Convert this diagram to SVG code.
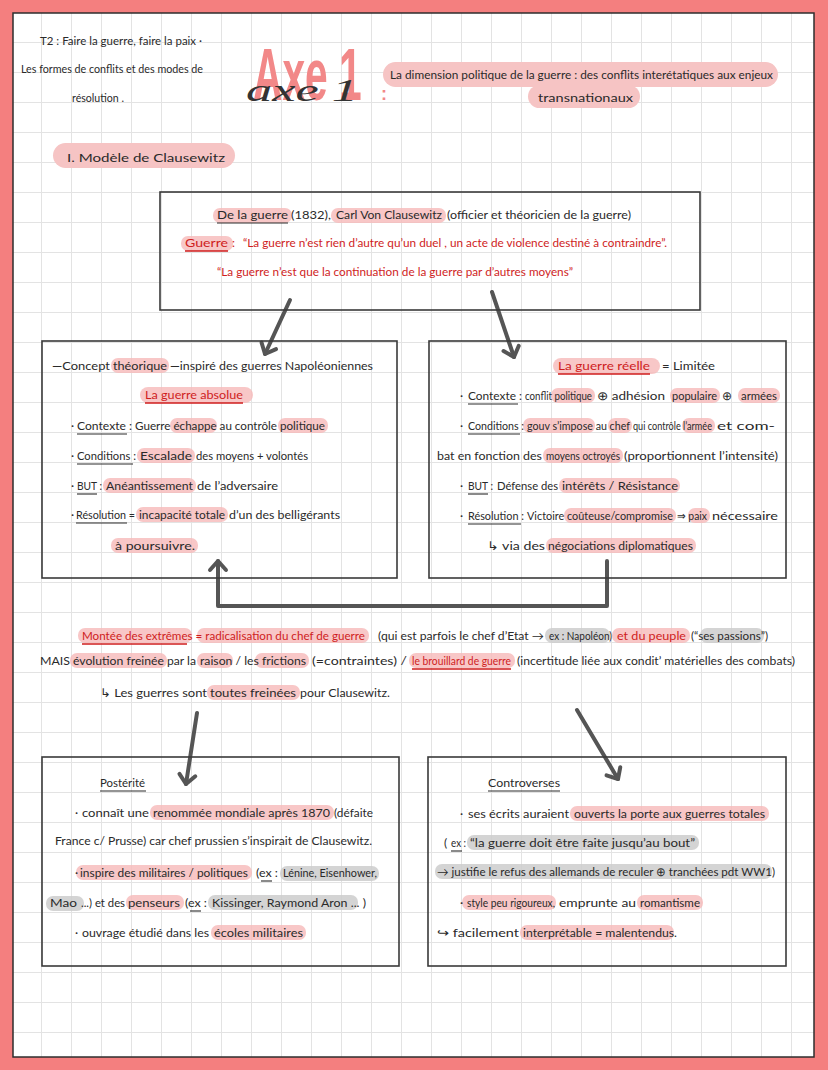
<svg xmlns="http://www.w3.org/2000/svg" width="828" height="1070" viewBox="0 0 828 1070">
<style>
.t{font-family:"Lato","Liberation Sans",sans-serif;font-size:12px;fill:#2a2a2a}
.s{font-size:11.5px}
.r{fill:#cf1d1d}
.hp{fill:#f6b9b9;opacity:.8}
.hg{fill:#cdcdcd;opacity:.85}
.ul{stroke:#2a2a2a;stroke-width:1.1}
.ur{stroke:#cf1d1d;stroke-width:1.3}
.box{fill:none;stroke:#3a3a3a;stroke-width:1.6}
.arr{fill:none;stroke:#555;stroke-width:4;stroke-linecap:round;stroke-linejoin:round}
</style>
<defs>
<pattern id="grid" patternUnits="userSpaceOnUse" x="11" y="12" width="30" height="30">
<path d="M0.5 0V30M0 0.5H30" stroke="#e3e3e3" stroke-width="1" fill="none"/>
</pattern>
<marker id="ah" viewBox="-12 -12 24 24" refX="0" refY="0" markerWidth="24" markerHeight="24" markerUnits="userSpaceOnUse" orient="auto">
<path d="M-9,-8 L0,0 L-9,8" fill="none" stroke="#555" stroke-width="4" stroke-linecap="round" stroke-linejoin="round"/>
</marker>
</defs>
<rect x="0" y="0" width="828" height="1070" fill="#f47f7f"/>
<rect x="13" y="13" width="801" height="1044" fill="#fff"/>
<rect x="13" y="13" width="801" height="1044" fill="url(#grid)" stroke="#2e2e2e" stroke-width="1.5"/>

<g id="header">
<text class="t s" x="40" y="45" textLength="162" lengthAdjust="spacingAndGlyphs">T2 : Faire la guerre, faire la paix ·</text>
<text class="t s" x="21" y="73" textLength="182" lengthAdjust="spacingAndGlyphs">Les formes de conflits et des modes de</text>
<text class="t s" x="72" y="102" textLength="52" lengthAdjust="spacingAndGlyphs">résolution .</text>
<text transform="translate(253,100) scale(0.55,1)" x="0" y="0" font-family="Liberation Sans, sans-serif" font-size="74" font-weight="bold" fill="#f28888">Axe 1</text>
<text x="246" y="101" font-family="Liberation Serif, serif" font-style="italic" font-size="32" fill="#333" textLength="112" lengthAdjust="spacingAndGlyphs">axe 1</text>
<text x="381" y="100" font-family="Liberation Sans, sans-serif" font-size="18" font-weight="bold" fill="#f28888">:</text>
<rect x="383" y="62" width="395" height="25" rx="12.5" fill="#f6c4c4"/>
<rect x="528" y="85" width="112" height="23" rx="11.5" fill="#f6c4c4"/>
<text class="t s" x="390" y="79" textLength="383" lengthAdjust="spacingAndGlyphs">La dimension politique de la guerre : des conflits interétatiques aux enjeux</text>
<text class="t s" x="538" y="102" textLength="95" lengthAdjust="spacingAndGlyphs">transnationaux</text>
<rect x="53" y="143" width="182" height="25" rx="12.5" fill="#f6c4c4"/>
<text class="t" x="67" y="162" font-size="18" textLength="158" lengthAdjust="spacingAndGlyphs">I. Modèle de Clausewitz</text>
</g>

<g id="connectors">
<path class="arr" d="M290,300 L265,354" marker-end="url(#ah)"/>
<path class="arr" d="M492,292 L514,357" marker-end="url(#ah)"/>
<path class="arr" d="M607,561 L607,606 L218,606 L218,561" marker-end="url(#ah)"/>
<path class="arr" d="M197,713 L186,784" marker-end="url(#ah)"/>
<path class="arr" d="M577,710 L618,779" marker-end="url(#ah)"/>
</g>

<g id="source">
<rect class="box" x="160" y="192" width="540" height="118"/>
<rect class="hp" x="213" y="208" width="79" height="15" rx="7"/>
<rect class="hp" x="331" y="208" width="115" height="15" rx="7"/>
<rect class="hp" x="181" y="236" width="52" height="15" rx="7"/>
<text class="t" x="217" y="219" textLength="71" lengthAdjust="spacingAndGlyphs">De la guerre</text>
<line class="ul" x1="217" y1="223" x2="288" y2="223"/>
<text class="t" x="291" y="219" textLength="40" lengthAdjust="spacingAndGlyphs">(1832),</text>
<text class="t" x="336" y="219" textLength="106" lengthAdjust="spacingAndGlyphs">Carl Von Clausewitz</text>
<text class="t" x="447" y="219" textLength="184" lengthAdjust="spacingAndGlyphs">(officier et théoricien de la guerre)</text>
<text class="t r" x="185" y="247" font-size="15" textLength="43" lengthAdjust="spacingAndGlyphs">Guerre</text>
<line class="ur" x1="185" y1="251" x2="228" y2="251"/>
<text class="t r" x="232" y="247">:</text>
<text class="t r" x="243" y="247" textLength="424" lengthAdjust="spacingAndGlyphs">“La guerre n’est rien d’autre qu’un duel , un acte de violence destiné à contraindre”.</text>
<text class="t r" x="217" y="276" textLength="356" lengthAdjust="spacingAndGlyphs">“La guerre n’est que la continuation de la guerre par d’autres moyens”</text>
</g>

<g id="absolue">
<rect class="box" x="42" y="341" width="355" height="237"/>
<rect class="hp" x="111" y="358" width="58" height="15" rx="7"/>
<rect class="hp" x="140" y="387" width="113" height="16" rx="8"/>
<rect class="hp" x="170" y="418" width="47" height="15" rx="7"/>
<rect class="hp" x="278" y="418" width="50" height="15" rx="7"/>
<rect class="hp" x="137" y="448" width="58" height="15" rx="7"/>
<rect class="hp" x="103" y="478" width="93" height="15" rx="7"/>
<rect class="hp" x="136" y="507" width="92" height="15" rx="7"/>
<rect class="hp" x="111" y="538" width="87" height="15" rx="7"/>
<text class="t" x="52" y="370" font-size="14" textLength="58" lengthAdjust="spacingAndGlyphs">—Concept</text>
<text class="t" x="113" y="370" textLength="54" lengthAdjust="spacingAndGlyphs">théorique</text>
<text class="t" x="170" y="370" textLength="203" lengthAdjust="spacingAndGlyphs">—inspiré des guerres Napoléoniennes</text>
<text class="t r" x="145" y="399" font-size="14" textLength="98" lengthAdjust="spacingAndGlyphs">La guerre absolue</text>
<line class="ur" x1="145" y1="403" x2="243" y2="403"/>
<text class="t" x="71" y="430">·</text>
<text class="t" x="77" y="430" textLength="55" lengthAdjust="spacingAndGlyphs">Contexte :</text>
<line class="ul" x1="77" y1="434" x2="127" y2="434"/>
<text class="t" x="135" y="430" textLength="190" lengthAdjust="spacingAndGlyphs">Guerre échappe au contrôle politique</text>
<text class="t" x="71" y="460">·</text>
<text class="t" x="77" y="460" textLength="59" lengthAdjust="spacingAndGlyphs">Conditions :</text>
<line class="ul" x1="77" y1="464" x2="133" y2="464"/>
<text class="t" x="140" y="460" textLength="52" lengthAdjust="spacingAndGlyphs">Escalade</text>
<text class="t" x="196" y="460" textLength="112" lengthAdjust="spacingAndGlyphs">des moyens + volontés</text>
<text class="t" x="71" y="490">·</text>
<text class="t" x="77" y="490" textLength="25" lengthAdjust="spacingAndGlyphs">BUT :</text>
<line class="ul" x1="77" y1="494" x2="97" y2="494"/>
<text class="t" x="106" y="490" textLength="87" lengthAdjust="spacingAndGlyphs">Anéantissement</text>
<text class="t" x="197" y="490" textLength="81" lengthAdjust="spacingAndGlyphs">de l’adversaire</text>
<text class="t" x="71" y="519">·</text>
<text class="t" x="76" y="519" textLength="59" lengthAdjust="spacingAndGlyphs">Résolution =</text>
<line class="ul" x1="76" y1="523" x2="127" y2="523"/>
<text class="t" x="139" y="519" textLength="86" lengthAdjust="spacingAndGlyphs">incapacité totale</text>
<text class="t" x="229" y="519" textLength="111" lengthAdjust="spacingAndGlyphs">d’un des belligérants</text>
<text class="t" x="115" y="550" textLength="80" lengthAdjust="spacingAndGlyphs">à  poursuivre.</text>
</g>

<g id="reelle">
<rect class="box" x="429" y="341" width="357" height="237"/>
<rect class="hp" x="553" y="358" width="107" height="16" rx="8"/>
<rect class="hp" x="551" y="388" width="44" height="15" rx="7"/>
<rect class="hp" x="670" y="388" width="50" height="15" rx="7"/>
<rect class="hp" x="738" y="388" width="42" height="15" rx="7"/>
<rect class="hp" x="523" y="418" width="72" height="15" rx="7"/>
<rect class="hp" x="608" y="418" width="24" height="15" rx="7"/>
<rect class="hp" x="682" y="418" width="33" height="15" rx="7"/>
<rect class="hp" x="543" y="448" width="80" height="15" rx="7"/>
<rect class="hp" x="559" y="478" width="121" height="15" rx="7"/>
<rect class="hp" x="564" y="508" width="112" height="15" rx="7"/>
<rect class="hp" x="688" y="508" width="22" height="15" rx="7"/>
<rect class="hp" x="546" y="538" width="150" height="15" rx="7"/>
<text class="t r" x="558" y="370" font-size="14" textLength="92" lengthAdjust="spacingAndGlyphs">La guerre réelle</text>
<line class="ur" x1="558" y1="374" x2="650" y2="374"/>
<text class="t" x="662" y="370" textLength="53" lengthAdjust="spacingAndGlyphs">= Limitée</text>
<text class="t" x="460" y="400">·</text>
<text class="t" x="468" y="400" textLength="54" lengthAdjust="spacingAndGlyphs">Contexte :</text>
<line class="ul" x1="468" y1="404" x2="518" y2="404"/>
<text class="t" x="525" y="400" textLength="67" lengthAdjust="spacingAndGlyphs">conflit politique</text>
<text class="t" x="597" y="400" textLength="68" lengthAdjust="spacingAndGlyphs">⊕ adhésion</text>
<text class="t" x="672" y="400" textLength="45" lengthAdjust="spacingAndGlyphs">populaire</text>
<text class="t" x="722" y="400">⊕</text>
<text class="t" x="741" y="400" textLength="36" lengthAdjust="spacingAndGlyphs">armées</text>
<text class="t" x="460" y="430">·</text>
<text class="t" x="468" y="430" textLength="56" lengthAdjust="spacingAndGlyphs">Conditions :</text>
<line class="ul" x1="468" y1="434" x2="520" y2="434"/>
<text class="t" x="527" y="430" textLength="103" lengthAdjust="spacingAndGlyphs">gouv s’impose au chef</text>
<text class="t" x="633" y="430" font-size="10.5" textLength="79" lengthAdjust="spacingAndGlyphs">qui contrôle l’armée</text>
<text class="t" x="717" y="430" textLength="58" lengthAdjust="spacingAndGlyphs">et com-</text>
<text class="t" x="437" y="460" textLength="105" lengthAdjust="spacingAndGlyphs">bat en fonction des</text>
<text class="t" x="546" y="460" textLength="74" lengthAdjust="spacingAndGlyphs">moyens octroyés</text>
<text class="t" x="624" y="460" textLength="154" lengthAdjust="spacingAndGlyphs">(proportionnent l’intensité)</text>
<text class="t" x="460" y="490">·</text>
<text class="t" x="468" y="490" font-size="14" textLength="25" lengthAdjust="spacingAndGlyphs">BUT :</text>
<line class="ul" x1="468" y1="494" x2="488" y2="494"/>
<text class="t" x="497" y="490" textLength="61" lengthAdjust="spacingAndGlyphs">Défense des</text>
<text class="t" x="562" y="490" textLength="116" lengthAdjust="spacingAndGlyphs">intérêts / Résistance</text>
<text class="t" x="460" y="520">·</text>
<text class="t" x="468" y="520" textLength="56" lengthAdjust="spacingAndGlyphs">Résolution :</text>
<line class="ul" x1="468" y1="524" x2="521" y2="524"/>
<text class="t" x="527" y="520" font-size="11" textLength="146" lengthAdjust="spacingAndGlyphs">Victoire coûteuse/compromise</text>
<text class="t" x="677" y="520" textLength="30" lengthAdjust="spacingAndGlyphs">⇒ paix</text>
<text class="t" x="712" y="520" textLength="66" lengthAdjust="spacingAndGlyphs">nécessaire</text>
<text class="t" x="487" y="550" textLength="58" lengthAdjust="spacingAndGlyphs">↳ via des</text>
<text class="t" x="548" y="550" textLength="145" lengthAdjust="spacingAndGlyphs">négociations diplomatiques</text>
</g>

<g id="extremes">
<rect class="hp" x="78" y="628" width="114" height="15" rx="7"/>
<rect class="hp" x="197" y="628" width="172" height="15" rx="7"/>
<rect class="hg" x="545" y="628" width="65" height="15" rx="7"/>
<rect class="hp" x="612" y="628" width="78" height="15" rx="7"/>
<rect class="hg" x="700" y="628" width="64" height="15" rx="7"/>
<rect class="hp" x="70" y="653" width="97" height="15" rx="7"/>
<rect class="hp" x="197" y="653" width="36" height="15" rx="7"/>
<rect class="hp" x="255" y="653" width="54" height="15" rx="7"/>
<rect class="hp" x="409" y="653" width="106" height="15" rx="7"/>
<rect class="hp" x="207" y="685" width="93" height="15" rx="7"/>
<text class="t r" x="82" y="640" textLength="283" lengthAdjust="spacingAndGlyphs">Montée des extrêmes = radicalisation du chef de guerre</text>
<line class="ur" x1="82" y1="644" x2="187" y2="644"/>
<text class="t" x="378" y="640" textLength="166" lengthAdjust="spacingAndGlyphs">(qui est parfois le chef d’Etat →</text>
<text class="t" x="549" y="640" textLength="63" lengthAdjust="spacingAndGlyphs">ex : Napoléon)</text>
<text class="t r" x="617" y="640" textLength="69" lengthAdjust="spacingAndGlyphs">et du peuple</text>
<text class="t" x="691" y="640" textLength="77" lengthAdjust="spacingAndGlyphs">(“ses passions”)</text>
<text class="t" x="40" y="665" textLength="30" lengthAdjust="spacingAndGlyphs">MAIS</text>
<text class="t" x="73" y="665" textLength="91" lengthAdjust="spacingAndGlyphs">évolution freinée</text>
<text class="t" x="167" y="665" textLength="29" lengthAdjust="spacingAndGlyphs">par la</text>
<text class="t" x="200" y="665" textLength="106" lengthAdjust="spacingAndGlyphs">raison / les frictions</text>
<text class="t" x="312" y="665" textLength="95" lengthAdjust="spacingAndGlyphs">(=contraintes) /</text>
<text class="t r" x="412" y="665" textLength="99" lengthAdjust="spacingAndGlyphs">le brouillard de guerre</text>
<line class="ur" x1="412" y1="669" x2="511" y2="669"/>
<text class="t" x="517" y="665" textLength="278" lengthAdjust="spacingAndGlyphs">(incertitude liée aux condit’ matérielles des combats)</text>
<text class="t" x="100" y="697" textLength="107" lengthAdjust="spacingAndGlyphs">↳ Les guerres sont</text>
<text class="t" x="210" y="697" textLength="86" lengthAdjust="spacingAndGlyphs">toutes freinées</text>
<text class="t" x="300" y="697" textLength="90" lengthAdjust="spacingAndGlyphs">pour Clausewitz.</text>
</g>

<g id="posterite">
<rect class="box" x="42" y="757" width="357" height="209"/>
<rect class="hp" x="150" y="805" width="184" height="15" rx="7"/>
<rect class="hp" x="76" y="865" width="176" height="15" rx="7"/>
<rect class="hg" x="280" y="866" width="99" height="15" rx="7"/>
<rect class="hg" x="46" y="896" width="38" height="15" rx="7"/>
<rect class="hp" x="126" y="895" width="58" height="15" rx="7"/>
<rect class="hg" x="208" y="895" width="150" height="15" rx="7"/>
<rect class="hp" x="211" y="925" width="95" height="15" rx="7"/>
<text class="t" x="100" y="787" font-size="14" textLength="45" lengthAdjust="spacingAndGlyphs">Postérité</text>
<line class="ul" x1="100" y1="791" x2="146" y2="791"/>
<text class="t" x="75" y="817">·</text>
<text class="t" x="82" y="817" textLength="67" lengthAdjust="spacingAndGlyphs">connaît une</text>
<text class="t" x="153" y="817" textLength="177" lengthAdjust="spacingAndGlyphs">renommée mondiale après 1870</text>
<text class="t" x="334" y="817" textLength="39" lengthAdjust="spacingAndGlyphs">(défaite</text>
<text class="t" x="55" y="845" textLength="317" lengthAdjust="spacingAndGlyphs">France c/ Prusse) car chef prussien s’inspirait de Clausewitz.</text>
<text class="t" x="75" y="877">·</text>
<text class="t" x="80" y="877" textLength="168" lengthAdjust="spacingAndGlyphs">inspire des militaires / politiques</text>
<text class="t" x="256" y="877" textLength="22" lengthAdjust="spacingAndGlyphs">(ex :</text>
<line class="ul" x1="261" y1="881" x2="272" y2="881"/>
<text class="t" x="283" y="877" textLength="94" lengthAdjust="spacingAndGlyphs">Lénine, Eisenhower,</text>
<text class="t" x="50" y="907" textLength="27" lengthAdjust="spacingAndGlyphs">Mao</text>
<text class="t" x="81" y="907" textLength="44" lengthAdjust="spacingAndGlyphs">...) et des</text>
<text class="t" x="128" y="907" textLength="52" lengthAdjust="spacingAndGlyphs">penseurs</text>
<text class="t" x="185" y="907" textLength="22" lengthAdjust="spacingAndGlyphs">(ex :</text>
<line class="ul" x1="190" y1="911" x2="201" y2="911"/>
<text class="t" x="212" y="907" textLength="154" lengthAdjust="spacingAndGlyphs">Kissinger, Raymond Aron ... )</text>
<text class="t" x="75" y="937">·</text>
<text class="t" x="82" y="937" textLength="127" lengthAdjust="spacingAndGlyphs">ouvrage étudié dans les</text>
<text class="t" x="214" y="937" textLength="89" lengthAdjust="spacingAndGlyphs">écoles militaires</text>
</g>

<g id="controverses">
<rect class="box" x="428" y="757" width="358" height="209"/>
<rect class="hp" x="570" y="806" width="199" height="15" rx="7"/>
<rect class="hg" x="467" y="835" width="232" height="15" rx="7"/>
<rect class="hg" x="435" y="864" width="337" height="15" rx="7"/>
<rect class="hp" x="462" y="895" width="94" height="15" rx="7"/>
<rect class="hp" x="637" y="895" width="66" height="15" rx="7"/>
<rect class="hp" x="520" y="925" width="154" height="15" rx="7"/>
<text class="t" x="488" y="787" font-size="14" textLength="72" lengthAdjust="spacingAndGlyphs">Controverses</text>
<line class="ul" x1="488" y1="791" x2="560" y2="791"/>
<text class="t" x="460" y="818">·</text>
<text class="t" x="468" y="818" textLength="101" lengthAdjust="spacingAndGlyphs">ses écrits auraient</text>
<text class="t" x="574" y="818" textLength="191" lengthAdjust="spacingAndGlyphs">ouverts la porte aux guerres totales</text>
<text class="t" x="444" y="847">(</text>
<text class="t" x="451" y="847" textLength="15" lengthAdjust="spacingAndGlyphs">ex :</text>
<line class="ul" x1="451" y1="851" x2="462" y2="851"/>
<text class="t" x="470" y="847" textLength="225" lengthAdjust="spacingAndGlyphs">“la guerre doit être faite jusqu’au bout”</text>
<text class="t" x="437" y="876" textLength="338" lengthAdjust="spacingAndGlyphs">→ justifie le refus des allemands de reculer ⊕ tranchées pdt WW1)</text>
<text class="t" x="460" y="907">·</text>
<text class="t" x="467" y="907" textLength="88" lengthAdjust="spacingAndGlyphs">style peu rigoureux,</text>
<text class="t" x="559" y="907" textLength="77" lengthAdjust="spacingAndGlyphs">emprunte au</text>
<text class="t" x="640" y="907" textLength="60" lengthAdjust="spacingAndGlyphs">romantisme</text>
<text class="t" x="437" y="937" textLength="82" lengthAdjust="spacingAndGlyphs">↪ facilement</text>
<text class="t" x="523" y="937" textLength="154" lengthAdjust="spacingAndGlyphs">interprétable = malentendus.</text>
</g>
</svg>
